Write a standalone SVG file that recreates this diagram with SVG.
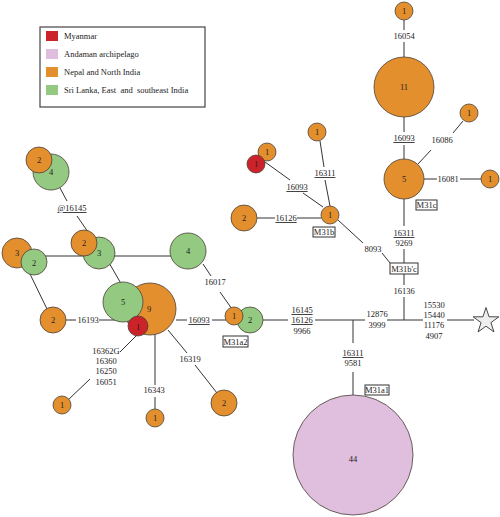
<svg xmlns="http://www.w3.org/2000/svg" width="500" height="517" viewBox="0 0 500 517">
<style>
text{font-family:"Liberation Serif","Times New Roman",serif;font-size:8.5px;fill:#222;text-anchor:middle}
.lg{text-anchor:start}
.u{text-decoration:underline}
.c{stroke:#4a4038;stroke-width:0.8}
.o{fill:#e38f2d}.g{fill:#93c981}.r{fill:#cc2229}.p{fill:#dfbfdd}
#edges line{stroke:#333;stroke-width:1}
.box{fill:#fff;stroke:#333;stroke-width:1}
</style>
<rect width="500" height="517" fill="#fff"/>
<g id="legend">
<rect x="40" y="27" width="165" height="80" fill="#fff" stroke="#444" stroke-width="1.2"/>
<rect x="46" y="31" width="12" height="10" class="r"/>
<rect x="46" y="49" width="12" height="10" class="p"/>
<rect x="46" y="67" width="12" height="10" class="o"/>
<rect x="46" y="85" width="12" height="10" class="g"/>
<text class="lg" x="64" y="39">Myanmar</text>
<text class="lg" x="64" y="57">Andaman archipelago</text>
<text class="lg" x="64" y="75">Nepal and North India</text>
<text class="lg" x="64" y="93" xml:space="preserve">Sri Lanka, East  and  southeast India</text>
</g>
<g id="edges">
<line x1="60" y1="188" x2="67" y2="201"/><line x1="77" y1="216" x2="88" y2="232"/>
<line x1="34" y1="256" x2="188" y2="256"/>
<line x1="30" y1="274" x2="47" y2="309"/>
<line x1="108" y1="261" x2="123" y2="287"/>
<line x1="203" y1="264" x2="211" y2="276"/><line x1="220" y1="292" x2="232" y2="309"/>
<line x1="66" y1="320" x2="76" y2="320"/><line x1="99" y1="320" x2="126" y2="320"/>
<line x1="176" y1="320" x2="187" y2="320"/><line x1="212" y1="320" x2="226" y2="320"/>
<line x1="137" y1="335" x2="120" y2="352"/><line x1="90" y1="379" x2="68" y2="400"/>
<line x1="155" y1="334" x2="155" y2="385"/><line x1="155" y1="397" x2="155" y2="409"/>
<line x1="168" y1="330" x2="187" y2="353"/><line x1="195" y1="365" x2="217" y2="393"/>
<line x1="263" y1="320" x2="288" y2="320"/><line x1="315" y1="320" x2="365" y2="320"/>
<line x1="387" y1="320" x2="423" y2="320"/><line x1="447" y1="320" x2="474" y2="320"/>
<line x1="353" y1="320" x2="353" y2="343"/><line x1="353" y1="372" x2="353" y2="395"/>
<line x1="404" y1="320" x2="404" y2="297"/><line x1="404" y1="285" x2="404" y2="274"/>
<line x1="404" y1="199" x2="404" y2="226"/><line x1="404" y1="249" x2="404" y2="263"/>
<line x1="404" y1="117" x2="404" y2="132"/><line x1="404" y1="145" x2="404" y2="159"/>
<line x1="404" y1="20" x2="404" y2="30"/><line x1="404" y1="42" x2="404" y2="57"/>
<line x1="418" y1="164" x2="431" y2="150"/><line x1="453" y1="133" x2="463" y2="121"/>
<line x1="424" y1="179" x2="437" y2="179"/><line x1="460" y1="179" x2="481" y2="179"/>
<line x1="320" y1="141" x2="324" y2="167"/><line x1="325" y1="180" x2="330" y2="206"/>
<line x1="265" y1="162" x2="290" y2="180"/><line x1="303" y1="193" x2="323" y2="207"/>
<line x1="257" y1="218" x2="275" y2="218"/><line x1="297" y1="218" x2="321" y2="218"/>
<line x1="338" y1="220" x2="363" y2="243"/><line x1="382" y1="253" x2="390" y2="263"/>
</g>
<g id="edge-labels">
<text class="u" x="72" y="211">@16145</text>
<text x="215" y="285">16017</text>
<text x="88" y="323">16193</text>
<text class="u" x="199" y="323">16093</text>
<text x="106" y="354">16362G</text>
<text x="106" y="364">16360</text>
<text x="106" y="374">16250</text>
<text x="106" y="385">16051</text>
<text x="154" y="393">16343</text>
<text x="190" y="362">16319</text>
<text class="u" x="302" y="313">16145</text>
<text class="u" x="302" y="323">16126</text>
<text x="302" y="334">9966</text>
<text x="377" y="317">12876</text>
<text x="377" y="328">3999</text>
<text x="434" y="308">15530</text>
<text x="434" y="318">15440</text>
<text x="434" y="328">11176</text>
<text x="434" y="339">4907</text>
<text class="u" x="353" y="356">16311</text>
<text x="353" y="366">9581</text>
<text x="404" y="294">16136</text>
<text class="u" x="404" y="236">16311</text>
<text x="404" y="246">9269</text>
<text class="u" x="404" y="141">16093</text>
<text x="404" y="39">16054</text>
<text x="442" y="143">16086</text>
<text x="448" y="182">16081</text>
<text class="u" x="325" y="176">16311</text>
<text class="u" x="297" y="190">16093</text>
<text class="u" x="286" y="221">16126</text>
<text x="373" y="252">8093</text>
</g>
<g id="n-tl"><circle cx="51" cy="172" r="18" class="c g"/><circle cx="39" cy="160" r="13" class="c o"/><text x="39" y="163">2</text><text x="51" y="175">4</text></g>
<g id="n-g3"><circle cx="99" cy="253" r="16" class="c g"/><circle cx="84" cy="243" r="13" class="c o"/><text x="84" y="246">2</text><text x="99" y="256">3</text></g>
<g id="n-l3"><circle cx="17" cy="253" r="15" class="c o"/><circle cx="34" cy="262" r="13" class="c g"/><text x="17" y="256">3</text><text x="34" y="266">2</text></g>
<g id="n-g4"><circle cx="188" cy="251" r="18" class="c g"/><text x="188" y="254">4</text></g>
<g id="n-o2l"><circle cx="53" cy="320" r="13" class="c o"/><text x="53" y="323">2</text></g>
<g id="n-center"><circle cx="150" cy="309" r="26" class="c o"/><circle cx="123" cy="302" r="20" class="c g"/><circle cx="138" cy="326" r="10" class="c r"/><text x="123" y="305">5</text><text x="149" y="312">9</text><text x="138" y="330">1</text></g>
<g id="n-o1a"><circle cx="62" cy="405" r="9" class="c o"/><text x="62" y="408">1</text></g>
<g id="n-o1b"><circle cx="155" cy="418" r="9" class="c o"/><text x="155" y="421">1</text></g>
<g id="n-o2b"><circle cx="224" cy="403" r="13" class="c o"/><text x="224" y="406">2</text></g>
<g id="n-m31a2"><circle cx="250" cy="320" r="13" class="c g"/><circle cx="234" cy="316" r="9" class="c o"/><text x="234" y="319">1</text><text x="250" y="323">2</text><rect x="223" y="336" width="25" height="11" class="box"/><text x="235.5" y="344.5">M31a2</text></g>
<g id="n-m31a1"><circle cx="353" cy="455" r="60" class="c p"/><text x="353" y="462">44</text><rect x="365" y="385" width="24" height="10" class="box"/><text x="377" y="393">M31a1</text></g>
<g id="n-star"><polygon points="486,307.5 489.06,316.79 498.84,316.83 490.95,322.61 493.94,331.92 486,326.2 478.06,331.92 481.05,322.61 473.16,316.83 482.94,316.79" fill="#eee" stroke="#333" stroke-width="0.9"/></g>
<g id="n-m31bc"><rect x="390" y="263" width="28" height="11" class="box"/><text x="404" y="271.5">M31b'c</text></g>
<g id="n-m31c"><circle cx="404" cy="179" r="20" class="c o"/><text x="404" y="182">5</text><rect x="416" y="200" width="21" height="10" class="box"/><text x="426.5" y="208">M31c</text></g>
<g id="n-o11"><circle cx="404" cy="87" r="30" class="c o"/><text x="404" y="90">11</text></g>
<g id="n-o1top"><circle cx="404" cy="11" r="9" class="c o"/><text x="404" y="14">1</text></g>
<g id="n-o1r1"><circle cx="469" cy="113" r="9" class="c o"/><text x="469" y="116">1</text></g>
<g id="n-o1r2"><circle cx="490" cy="179" r="9" class="c o"/><text x="490" y="182">1</text></g>
<g id="n-m31b"><circle cx="330" cy="215" r="9" class="c o"/><text x="330" y="218">1</text><rect x="313" y="227" width="22" height="10" class="box"/><text x="324" y="235">M31b</text></g>
<g id="n-o1c"><circle cx="317" cy="132" r="9" class="c o"/><text x="317" y="135">1</text></g>
<g id="n-rb"><circle cx="267" cy="152" r="9" class="c o"/><circle cx="256" cy="164" r="9" class="c r"/><text x="267" y="155">1</text><text x="256" y="167">1</text></g>
<g id="n-o2c"><circle cx="244" cy="218" r="13" class="c o"/><text x="244" y="221">2</text></g>
</svg>
